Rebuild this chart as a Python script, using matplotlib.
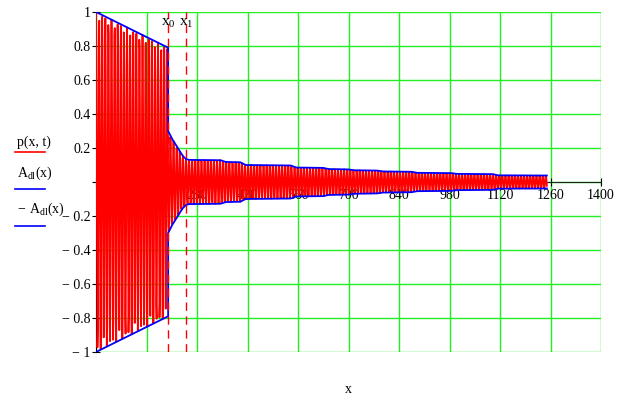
import numpy as np
import matplotlib
matplotlib.use("Agg")
from matplotlib import pyplot as plt
from matplotlib.lines import Line2D

plt.rcParams['font.family'] = ['Liberation Serif', 'DejaVu Serif']
plt.rcParams['mathtext.fontset'] = 'custom'
plt.rcParams['mathtext.rm'] = 'Liberation Serif'

# envelope A_dl(x)
env_x = [0, 200, 200, 212, 224, 234, 242, 250, 258, 345, 360, 400, 415, 540, 555,
         630, 645, 700, 715, 780, 795, 875, 890, 985, 1000, 1100, 1115, 1250]
env_a = [1.0, 0.79, 0.30, 0.25, 0.21, 0.175, 0.15, 0.135, 0.13, 0.128, 0.118, 0.116, 0.10,
         0.097, 0.085, 0.083, 0.076, 0.074, 0.069, 0.067, 0.062, 0.060, 0.054, 0.052,
         0.048, 0.046, 0.039, 0.038]

# carrier of p(x, t)
wavelength = 8.6
x_step = 1
x_end = 1250

# marked positions
x0 = 200
x1 = 250

x_ticks = [0, 140, 280, 420, 560, 700, 840, 980, 1120, 1260, 1400]
y_ticks = [-1, -0.8, -0.6, -0.4, -0.2, 0, 0.2, 0.4, 0.6, 0.8, 1]

red = '#ff0000'
blue = '#0000ff'
green = '#22ee22'

xs = np.arange(0, x_end + x_step, x_step)
amp = np.interp(xs, env_x, env_a)
p = amp * np.cos(2 * np.pi * xs / wavelength)

fig = plt.figure(figsize=(6.28, 4.05), dpi=100)
ax = fig.add_axes([96 / 628, 1 - 352 / 405, 505 / 628, 340 / 405])

ax.plot(xs, p, color=red, lw=1.3, zorder=3)
ax.plot(env_x, env_a, color=blue, lw=1.3, zorder=4)
ax.plot(env_x, -np.array(env_a), color=blue, lw=1.3, zorder=4)

for xv in (x0, x1):
    ax.axvline(xv, color=red, lw=1.0, dashes=(6, 4), zorder=5)
ax.text(x0, 0.97, r'$\mathregular{x_0}$', ha='center', va='top', fontsize=11, zorder=6)
ax.text(x1, 0.97, r'$\mathregular{x_1}$', ha='center', va='top', fontsize=11, zorder=6)

ax.set_xlim(0, 1400)
ax.set_ylim(-1, 1)
ax.set_xticks(x_ticks)
ax.set_yticks(y_ticks)
ax.set_xticklabels(['' if v == 0 else str(v) for v in x_ticks])

def ylab(v):
    if v == 0:
        return ''
    s = ('%g' % abs(v))
    return ('\u2212 ' + s) if v < 0 else s

ax.set_yticklabels([ylab(v) for v in y_ticks])

ax.grid(True, color=green, lw=1.0, zorder=0)
ax.set_axisbelow(True)
for side in ('top', 'right'):
    ax.spines[side].set_visible(False)
ax.spines['bottom'].set_position(('data', 0))
ax.spines['bottom'].set_color('#222222')
ax.spines['left'].set_color('black')
ax.spines['bottom'].set_zorder(2)
ax.tick_params(axis='x', direction='inout', length=6, pad=2, labelsize=10)
ax.tick_params(axis='y', direction='inout', length=6, pad=1, labelsize=10)

ax.set_xlabel('x', fontsize=10)
ax.xaxis.set_label_coords(0.5, -0.09)

# legend on the left
fig.text(17 / 628, 1 - 142 / 405, 'p(x, t)', fontsize=10, va='center')
fig.text(17 / 628, 1 - 173 / 405, r'$\mathregular{A_{dl}(x)}$', fontsize=10, va='center')
fig.text(17 / 628, 1 - 209 / 405, r'$\mathregular{-\ A_{dl}(x)}$', fontsize=10, va='center')
for yy, c in ((152, red), (189, blue), (226, blue)):
    fig.add_artist(Line2D([15 / 628, 45 / 628], [1 - yy / 405, 1 - yy / 405], color=c, lw=1.2))

fig.savefig('out.png', dpi=100)
